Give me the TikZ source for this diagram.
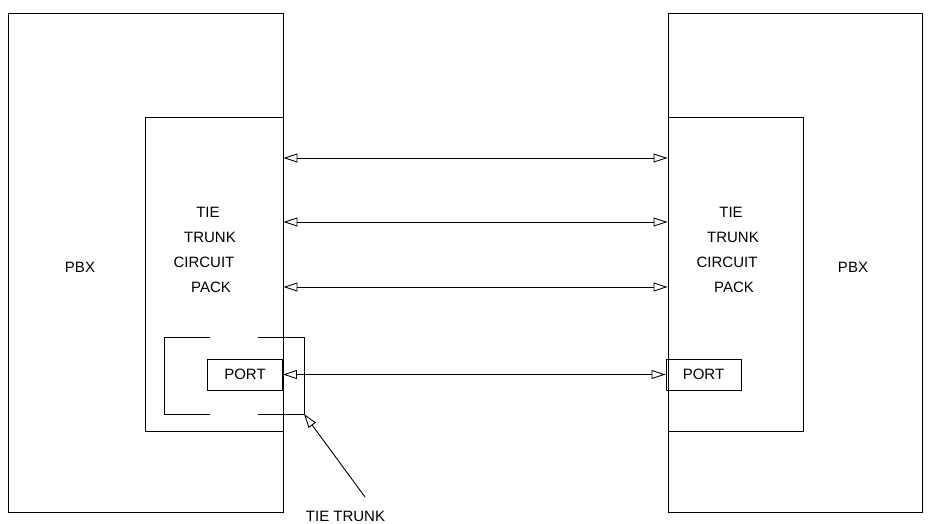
\documentclass[tikz,border=0pt]{standalone}
\usepackage{fontspec}
\setmainfont{Liberation Sans}
\usetikzlibrary{arrows.meta}
\tikzset{
  box/.style={draw, line width=0.9pt, inner sep=0pt},
  link/.style={{Triangle[open,length=14pt,width=9pt]}-{Triangle[open,length=14pt,width=9pt]}, line width=0.9pt},
  pointer/.style={-{Triangle[open,length=14pt,width=9pt]}, line width=0.9pt},
  lbl/.style={font=\fontsize{15}{18}\selectfont, inner sep=0pt}
}
\begin{document}
\begin{tikzpicture}[x=1pt,y=-1pt]
  \useasboundingbox (0,0) rectangle (930,524);
  % the two PBXs
  \node[box, minimum width=275, minimum height=499] (lpbx) at (145.5,262.5) {};
  \node[box, minimum width=254, minimum height=499] (rpbx) at (795,262.5) {};
  \node[lbl] (lpbxtext) at (80,267) {PBX};
  \node[lbl] (rpbxtext) at (853,267) {PBX};
  % circuit packs
  \node[box, fill=white, minimum width=138, minimum height=314] (lcard) at (214,274) {};
  \node[box, fill=white, minimum width=135, minimum height=314] (rcard) at (735.5,274) {};
  \node[lbl] (ltie) at (208,212) {TIE};
  \node[lbl] (ltrunk) at (210,237) {TRUNK};
  \node[lbl] (lcircuit) at (204,262) {CIRCUIT};
  \node[lbl] (lpack) at (211,287) {PACK};
  \node[lbl] (rtie) at (731,212) {TIE};
  \node[lbl] (rtrunk) at (733,237) {TRUNK};
  \node[lbl] (rcircuit) at (727,262) {CIRCUIT};
  \node[lbl] (rpack) at (734,287) {PACK};
  % ports
  \node[box, lbl, draw, minimum width=75, minimum height=31] (lport) at (245,374.5) {PORT};
  \node[box, lbl, draw, minimum width=75, minimum height=31] (rport) at (703.5,374.5) {PORT};
  % links between the packs
  \foreach \y in {158,222,287}
    \draw[link] (lcard.east |- 0,\y) -- (rcard.west |- 0,\y);
  \draw[link] (lport.east) -- (rport.west);
  % tie trunk bracket
  \draw[line width=0.9pt] (210,337) -- (164,337) -- (164,414) -- (210,414);
  \draw[line width=0.9pt] (258,337) -- (304,337) -- (304,414) -- (258,414);
  \coordinate (tt) at (304,414);
  \coordinate (ttfoot) at (365,497);
  \node[lbl] (ttlabel) at (345.5,516) {TIE TRUNK};
  \draw[pointer] (ttfoot) -- (tt);
\end{tikzpicture}
\end{document}
